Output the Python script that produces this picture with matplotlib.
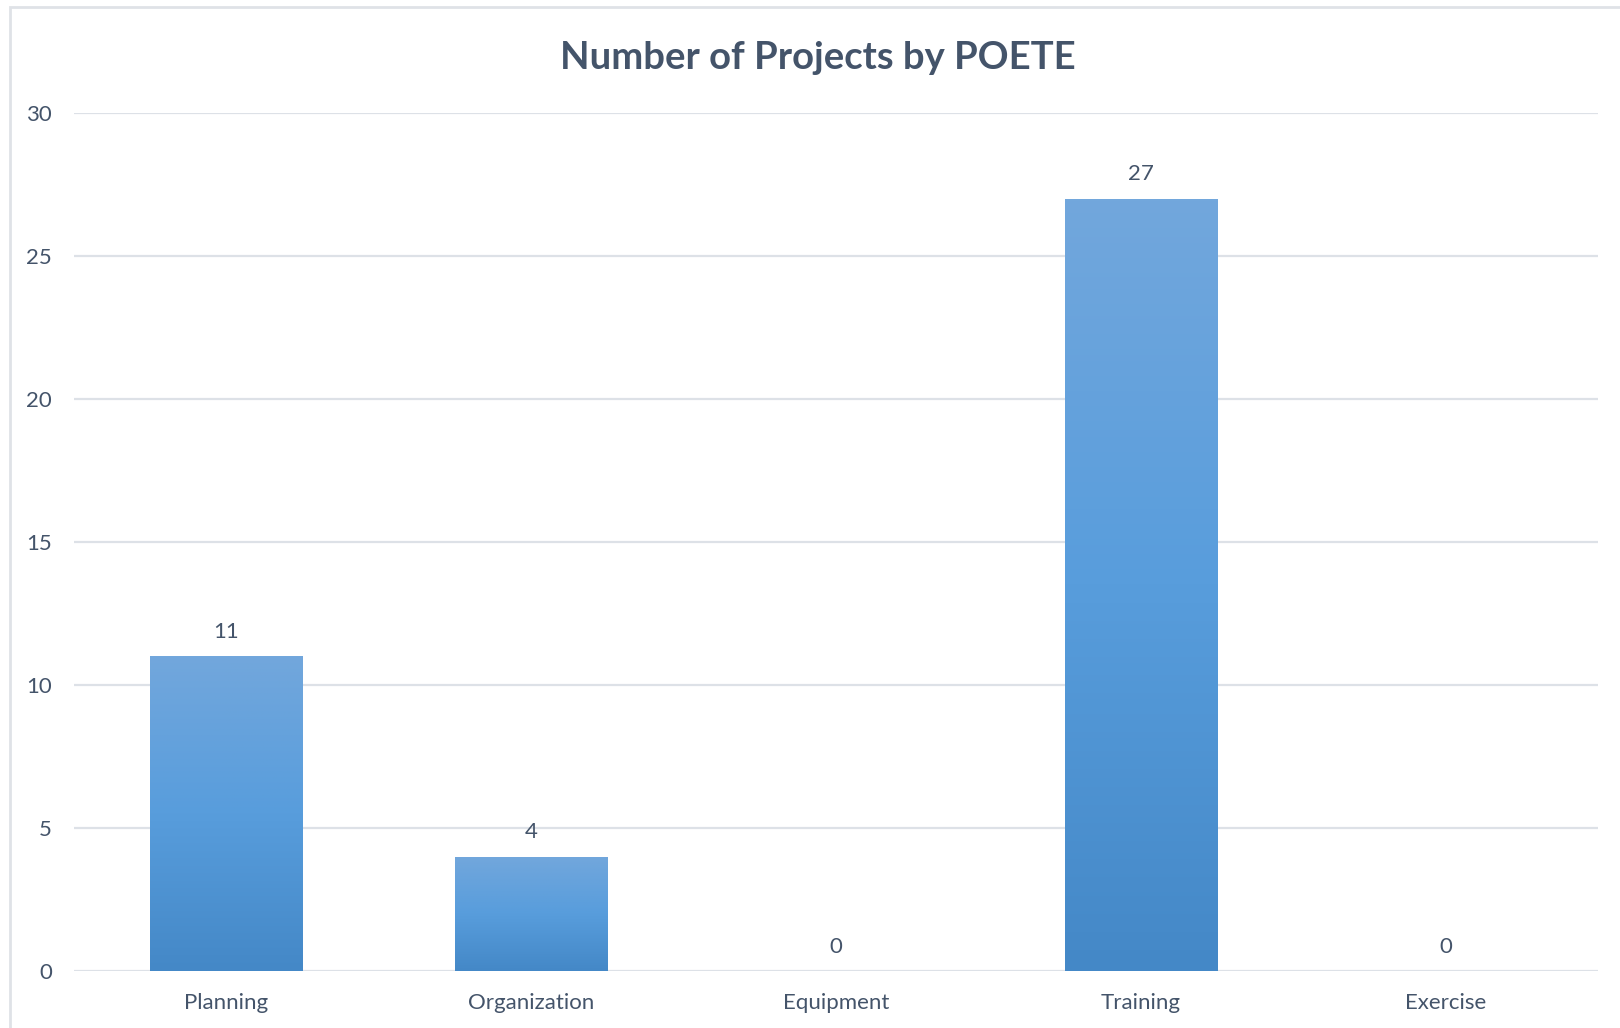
import numpy as np
import matplotlib.pyplot as plt
from matplotlib.patches import Rectangle

# Chart data
categories = ["Planning", "Organization", "Equipment", "Training", "Exercise"]
project_counts = [11, 4, 0, 27, 0]
y_ticks = [0, 5, 10, 15, 20, 25, 30]

text_color = "#44546a"
grid_color = "#dde1e7"
top_color = np.array([0x72, 0xa7, 0xdc]) / 255
mid_color = np.array([0x58, 0x9d, 0xdc]) / 255
bottom_color = np.array([0x44, 0x88, 0xc7]) / 255

plt.rcParams["font.family"] = ["Lato", "DejaVu Sans"]

fig = plt.figure(figsize=(16.2, 10.28), dpi=100)
W, H = 1620, 1028

# Chart border (only top and left edges fall inside the picture)
fig.patches.append(Rectangle((10 / W, -0.1), 1.2, 1.1 - 7 / H,
                             transform=fig.transFigure, fill=False,
                             edgecolor="#dfe2e7", linewidth=2))

ax = fig.add_axes([74 / W, 1 - 971 / H, (1598 - 74) / W, (971 - 113) / H])

x = np.arange(len(categories))
bars = ax.bar(x, project_counts, width=0.5, color="none", zorder=3)

# Vertical gradient per bar, light at the top and darker at the bottom
t = np.linspace(0, 1, 256)[:, None]
grad = np.where(t < 0.5,
                top_color + (mid_color - top_color) * (t / 0.5),
                mid_color + (bottom_color - mid_color) * ((t - 0.5) / 0.5))
grad = grad[:, None, :]
for bar in bars:
    h = bar.get_height()
    if h <= 0:
        continue
    x0 = bar.get_x()
    w = bar.get_width()
    im = ax.imshow(grad, extent=(x0, x0 + w, 0, h), aspect="auto",
                   origin="upper", zorder=3)
    im.set_clip_path(bar)

ax.set_xlim(-0.5, len(categories) - 0.5)
ax.set_ylim(0, 30)

for xi, v in zip(x, project_counts):
    ax.text(xi, v + 0.5, str(v), ha="center", va="bottom",
            fontsize=16, color=text_color, zorder=4)

ax.set_yticks(y_ticks)
ax.set_xticks(x)
ax.set_xticklabels(categories)
ax.tick_params(axis="both", length=0, labelsize=16, labelcolor=text_color)
ax.tick_params(axis="y", pad=16)
ax.tick_params(axis="x", pad=16)
ax.grid(axis="y", color=grid_color, linewidth=1.6, zorder=0)
ax.set_axisbelow(True)
for spine in ax.spines.values():
    spine.set_visible(False)

fig.text(0.5 * (559 + 1077) / W, 1 - 58 / H, "Number of Projects by POETE",
         ha="center", va="center", fontsize=27.5, fontweight="bold",
         color=text_color)

fig.savefig("out.png", dpi=100)
